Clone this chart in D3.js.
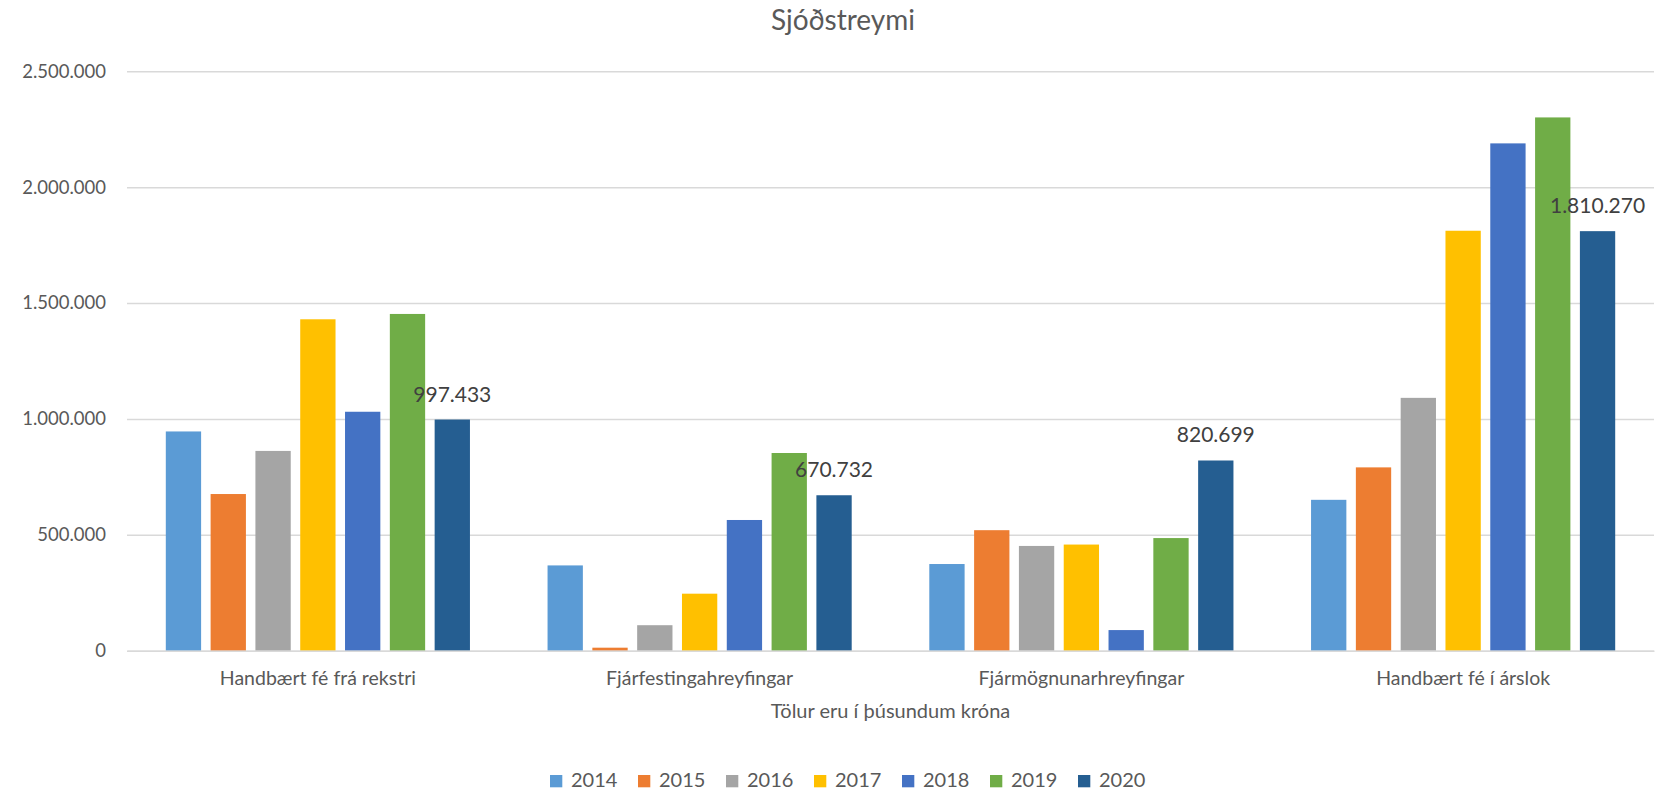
<!DOCTYPE html>
<html lang="is">
<head>
  <meta charset="UTF-8">
  <title>Sjóðstreymi</title>
  <script src="https://d3js.org/d3.v7.min.js"></script>
  <style>
    body { margin: 0; background: #fff; font-family: Lato, "Open Sans", sans-serif; }
    svg { display: block; }
    .tick text { fill: #595959; }
    .grid line { stroke: #d9d9d9; stroke-width: 1.5; }
    .grid .domain { display: none; }
  </style>
</head>
<body>
<svg width="1668" height="790"></svg>

<script>
  // Sjóðstreymi, tölur í þúsundum króna
  const categories = ["Handbært fé frá rekstri", "Fjárfestingahreyfingar", "Fjármögnunarhreyfingar", "Handbært fé í árslok"];
  const years = ["2014", "2015", "2016", "2017", "2018", "2019", "2020"];
  const v2014 = [946000, 368000, 374000, 651000];
  const v2015 = [676000, 13000, 520000, 791000];
  const v2016 = [862000, 110000, 452000, 1091000];
  const v2017 = [1430000, 246000, 458000, 1812000];
  const v2018 = [1031000, 564000, 89000, 2189000];
  const v2019 = [1453000, 853000, 486000, 2301000];
  const v2020 = [997433, 670732, 820699, 1810270];
  const yTicks = [0, 500000, 1000000, 1500000, 2000000, 2500000];
  const colors = ["#5b9bd5", "#ed7d31", "#a5a5a5", "#ffc000", "#4472c4", "#70ad47", "#255e91"];

  const series = [v2014, v2015, v2016, v2017, v2018, v2019, v2020];
  const labelled = "2020";

  const is = d3.formatLocale({decimal: ",", thousands: ".", grouping: [3], currency: ["", " kr."]});
  const fmt = is.format(",d");

  const svg = d3.select("svg");
  const pLeft = 127, pRight = 1654, pTop = 71.3, pBottom = 650.7;

  const x0 = d3.scaleBand().domain(categories).range([pLeft, pRight]).padding(0);
  const x1 = d3.scaleBand().domain(years).range([0, x0.bandwidth()])
      .paddingInner(0.212).paddingOuter(0.866);
  const y = d3.scaleLinear().domain([0, 2500000]).range([pBottom, pTop]);
  const color = d3.scaleOrdinal().domain(years).range(colors);

  // Titill
  svg.append("text")
      .attr("x", 843).attr("y", 30)
      .attr("text-anchor", "middle")
      .attr("font-size", 28)
      .attr("fill", "#595959")
      .text("Sjóðstreymi");

  // Gridlínur og y-ás
  const yAxis = svg.append("g")
      .attr("class", "grid")
      .attr("transform", `translate(${pLeft},0)`)
      .call(d3.axisLeft(y).tickValues(yTicks).tickFormat(fmt)
        .tickSize(-(pRight - pLeft)).tickPadding(21));
  yAxis.selectAll("text").attr("font-size", 18.5).attr("font-family", "Lato");

  // Súlur
  const rows = years.map((yr, i) => categories.map((c, j) => ({year: yr, cat: c, value: series[i][j]})));
  svg.append("g")
    .selectAll("g")
    .data(rows)
    .join("g")
      .attr("fill", d => color(d[0].year))
    .selectAll("rect")
    .data(d => d)
    .join("rect")
      .attr("x", d => x0(d.cat) + x1(d.year))
      .attr("y", d => y(d.value))
      .attr("width", x1.bandwidth())
      .attr("height", d => y(0) - y(d.value));

  // x-ás
  const xAxis = svg.append("g")
      .attr("transform", `translate(0,${pBottom})`)
      .call(d3.axisBottom(x0).tickSize(0).tickPadding(20.5));
  xAxis.select(".domain").attr("stroke", "#d9d9d9").attr("stroke-width", 1.5);
  xAxis.selectAll("text").attr("font-size", 19.5).attr("font-family", "Lato");

  // Gildi á 2020 súlum
  const iLab = years.indexOf(labelled);
  svg.append("g")
    .selectAll("text")
    .data(categories.map((c, j) => ({cat: c, value: series[iLab][j]})))
    .join("text")
      .attr("x", d => x0(d.cat) + x1(labelled) + x1.bandwidth() / 2)
      .attr("y", d => y(d.value) - 18)
      .attr("text-anchor", "middle")
      .attr("font-size", 21)
      .attr("fill", "#404040")
      .text(d => fmt(d.value));

  // Ás titill
  svg.append("text")
      .attr("x", (pLeft + pRight) / 2).attr("y", 718)
      .attr("text-anchor", "middle")
      .attr("font-size", 20)
      .attr("fill", "#595959")
      .text("Tölur eru í þúsundum króna");

  // Skýringar
  const legend = svg.append("g").attr("transform", "translate(550,775)");
  years.forEach((yr, i) => {
    const row = legend.append("g").attr("transform", `translate(${i * 88},0)`);
    row.append("rect").attr("width", 12.3).attr("height", 12.3).attr("fill", color(yr));
    row.append("text")
        .attr("x", 21).attr("y", 12.3)
        .attr("font-size", 20)
        .attr("fill", "#595959")
        .text(yr);
  });
</script>
</body>
</html>
